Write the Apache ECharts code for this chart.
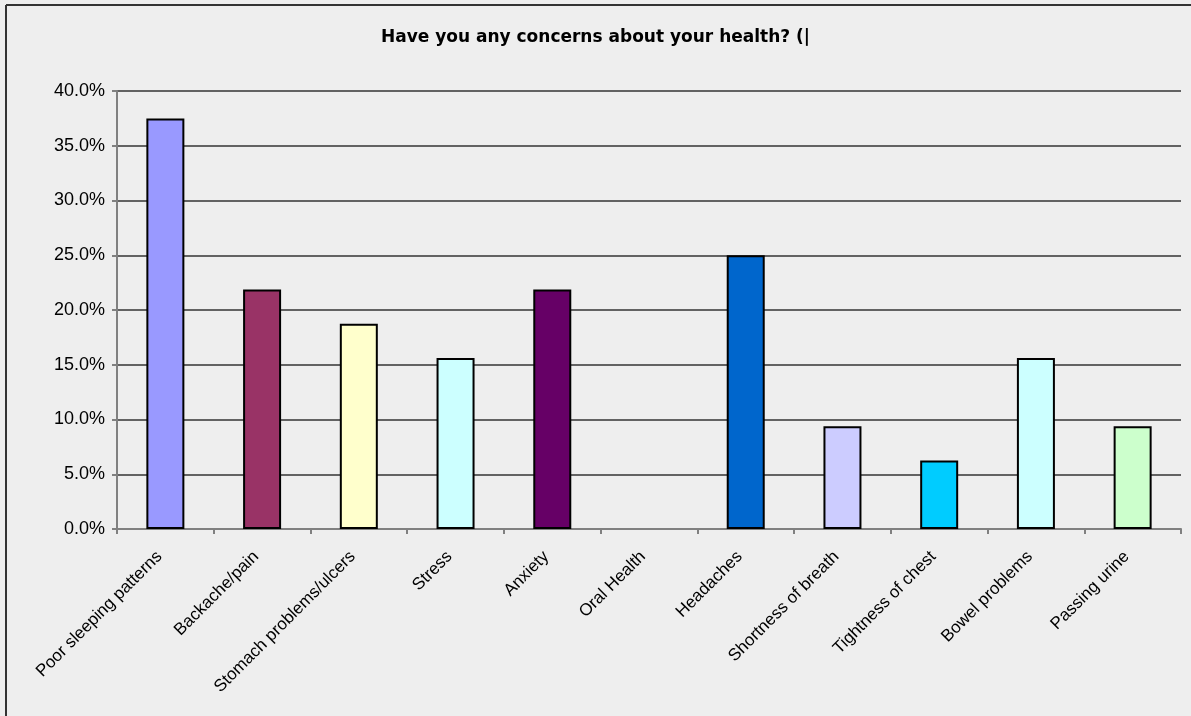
<!DOCTYPE html>
<html>
<head>
<meta charset="utf-8">
<script src="https://cdn.jsdelivr.net/npm/echarts@6/dist/echarts.min.js"></script>
<style>
html,body{margin:0;padding:0;background:#eeeeee;}
#c{width:1191px;height:716px;}
</style>
</head>
<body>
<div id="c"></div>
<script>
var titleText = 'Have you any concerns about your health? (|';
var categories = ['Poor sleeping patterns','Backache/pain','Stomach problems/ulcers','Stress','Anxiety','Oral Health','Headaches','Shortness of breath','Tightness of chest','Bowel problems','Passing urine'];
var values = [37.5, 21.875, 18.75, 15.625, 21.875, 0, 25, 9.375, 6.25, 15.625, 9.375];
var barColors = ['#9999FF','#993366','#FFFFCC','#CCFFFF','#660066','#FF8080','#0066CC','#CCCCFF','#00CCFF','#CCFFFF','#CCFFCC'];
var yMin = 0, yMax = 40, yStep = 5;

var chart = echarts.init(document.getElementById('c'), null, {renderer:'canvas'});
chart.setOption({
  backgroundColor:'#eeeeee',
  animation:false,
  title:{
    text:titleText, left:'center', top:24,
    textStyle:{fontFamily:'DejaVu Sans, sans-serif', fontSize:17, fontWeight:'bold', color:'#000'}
  },
  graphic:[
    {type:'line', shape:{x1:6,y1:5,x2:1191,y2:5}, style:{stroke:'#333',lineWidth:2}},
    {type:'line', shape:{x1:6,y1:5,x2:6,y2:716}, style:{stroke:'#333',lineWidth:2}}
  ],
  grid:{left:117, right:10, top:91, bottom:187},
  xAxis:{
    type:'category', data:categories,
    axisLine:{lineStyle:{color:'#808080', width:2}},
    axisTick:{show:true, alignWithLabel:false, length:5, lineStyle:{color:'#808080', width:2}},
    axisLabel:{rotate:45, margin:31, interval:0, verticalAlign:'bottom', color:'#000', fontSize:17, fontFamily:'Liberation Sans, Arial, sans-serif'}
  },
  yAxis:{
    type:'value', min:yMin, max:yMax, interval:yStep,
    axisLine:{show:true, lineStyle:{color:'#808080', width:2}},
    axisTick:{show:true, length:5, lineStyle:{color:'#808080', width:2}},
    axisLabel:{margin:12, color:'#000', fontSize:18, fontFamily:'Liberation Sans, Arial, sans-serif',
      formatter:function(v){return v.toFixed(1)+'%';}},
    splitLine:{show:true, lineStyle:{color:'#333', width:1.5}}
  },
  series:[{
    type:'bar', barWidth:38,
    data:values.map(function(v,i){return {value:v, itemStyle:{color:barColors[i], borderWidth: v > 0 ? 2 : 0}};}),
    itemStyle:{borderColor:'#000', borderWidth:2}
  }]
});
</script>
</body>
</html>
